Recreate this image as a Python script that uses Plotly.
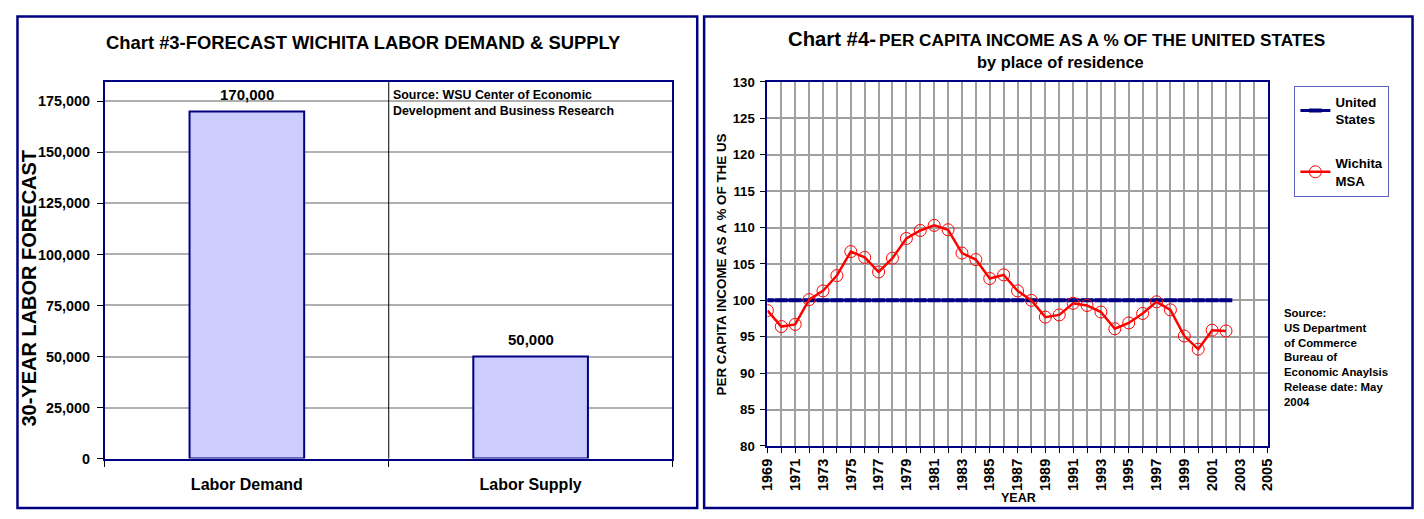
import plotly.graph_objects as go

# ---- Data ----
labor_categories = ["Labor Demand", "Labor Supply"]
labor_values = [170000, 50000]
labor_ticks = [0, 25000, 50000, 75000, 100000, 125000, 150000, 175000]

years = list(range(1969, 2003))
us_values = [100] * len(years)
wichita_values = [98.6, 96.4, 96.7, 100.1, 101.3, 103.4, 106.7, 105.9, 103.9, 105.8,
                  108.5, 109.6, 110.3, 109.7, 106.5, 105.6, 103.0, 103.5, 101.3, 100.0,
                  97.7, 98.0, 99.6, 99.3, 98.4, 96.1, 96.9, 98.2, 99.8, 98.7,
                  95.1, 93.3, 95.9, 95.8]

# The page body has an 8px margin, so the figure starts at screen (8, 8).
OFF = 8
W, H = 1424 - OFF, 519 - OFF
def px(x): return (x - OFF) / W
def py(y): return 1 - (y - OFF) / H

NAVY = "#000080"
FONT = "Liberation Sans"

fig = go.Figure()

# Left chart: bars
fig.add_trace(go.Bar(
    x=labor_categories, y=labor_values, width=0.404,
    marker=dict(color="#CCCCFF", line=dict(color=NAVY, width=2)),
    xaxis="x", yaxis="y", showlegend=False, hoverinfo="x+y"))

# Right chart: lines
fig.add_trace(go.Scatter(
    x=years, y=us_values, mode="lines+markers", name="United<br>States",
    line=dict(color=NAVY, width=3),
    marker=dict(symbol="line-ew", size=9, color=NAVY, line=dict(color=NAVY, width=4)),
    xaxis="x2", yaxis="y2", legendgroup="a"))
fig.add_trace(go.Scatter(
    x=years, y=wichita_values, mode="lines+markers", name="Wichita<br>MSA",
    line=dict(color="#FF0000", width=2.5),
    marker=dict(symbol="circle-open", size=12, color="#FF0000", line=dict(width=1)),
    xaxis="x2", yaxis="y2", legendgroup="b"))

fig.update_layout(
    width=W, height=H, margin=dict(l=0, r=0, t=0, b=0),
    paper_bgcolor="white", plot_bgcolor="white",
    font=dict(family=FONT, color="black"),
    xaxis=dict(domain=[px(98), px(672)], anchor="y", type="category",
               range=[-0.5, 1.5], showgrid=False, showline=True, linecolor=NAVY,
               linewidth=2, mirror=True, ticks="outside", tickson="boundaries",
               ticklen=6, tickcolor="black", ticklabelstandoff=10,
               tickfont=dict(family=FONT, size=16, color="black", weight="bold")),
    yaxis=dict(domain=[py(465), py(77)], anchor="x", range=[0, 184500],
               tickvals=labor_ticks, tickformat=",d", showgrid=True,
               gridcolor="#B0B0B0", gridwidth=1.5, showline=True, linecolor=NAVY,
               linewidth=2, mirror=True, ticks="outside", ticklen=6,
               tickcolor="black", zeroline=False, ticklabelstandoff=4,
               tickfont=dict(family=FONT, size=14.4, color="black", weight="bold")),
    xaxis2=dict(domain=[px(768), px(1274)], anchor="y2", range=[1969, 2005],
                tick0=1969, dtick=2, tickangle=-90, showgrid=True,
                gridcolor="#A0A0A0", gridwidth=1.5, showline=True, linecolor=NAVY,
                linewidth=2, mirror=True, ticks="outside", ticklen=5,
                tickcolor="black", zeroline=False,
                minor=dict(dtick=1, tick0=1969, showgrid=True, gridcolor="#A0A0A0",
                           gridwidth=1.5, ticks="outside", ticklen=5, tickcolor="black"),
                tickfont=dict(family=FONT, size=14.5, color="black", weight="bold")),
    yaxis2=dict(domain=[py(452), py(77)], anchor="x2", range=[80, 130], dtick=5,
                showgrid=True, gridcolor="#A0A0A0", gridwidth=1.5, showline=True,
                linecolor=NAVY, linewidth=2, mirror=True, ticks="outside",
                ticklen=5, tickcolor="black", zeroline=False, ticklabelstandoff=3,
                tickfont=dict(family=FONT, size=13.2, color="black", weight="bold")),
    legend=dict(x=px(1301), y=py(81), xanchor="left", yanchor="top",
                bordercolor="#6060C0", borderwidth=1, bgcolor="white",
                font=dict(family=FONT, size=13.2, color="black", weight="bold"),
                tracegroupgap=24, traceorder="grouped", itemwidth=30),
)

# Category separator line in left chart
fig.add_shape(type="line", xref="x", yref="paper", x0=0.5, x1=0.5,
              y0=py(465), y1=py(77), line=dict(color="black", width=1))

# Outer frames
fig.add_shape(type="rect", xref="paper", yref="paper", x0=px(9.5), x1=px(697),
              y0=py(516), y1=py(9.5), line=dict(color=NAVY, width=2.5))
fig.add_shape(type="rect", xref="paper", yref="paper", x0=px(704), x1=px(1420.5),
              y0=py(516), y1=py(9.5), line=dict(color=NAVY, width=2.5))

def A(x, y, text, size, xa="center", ya="middle", **kw):
    return dict(x=px(x), y=py(y), xref="paper", yref="paper", text=text,
                showarrow=False, xanchor=xa, yanchor=ya,
                font=dict(family=FONT, size=size, color="black"), **kw)

ann = []
# Bar value labels
for c, v in zip(labor_categories, labor_values):
    ann.append(dict(x=c, y=v, xref="x", yref="y", text=f"<b>{v:,}</b>",
                    showarrow=False, xanchor="center", yanchor="bottom", yshift=7,
                    font=dict(family=FONT, size=15, color="black")))
ann += [
    A(359, 36, "<b>Chart #3-FORECAST WICHITA LABOR DEMAND &amp; SUPPLY</b>", 18.4),
    A(387, 81, "<b>Source: WSU Center of Economic<br>Development and Business Research</b>",
      12.4, xa="left", ya="top", align="left"),
    A(21, 289, "<b>30-YEAR LABOR FORECAST</b>", 20, textangle=-90),
    A(880, 33, "<b>Chart #4-</b>", 20.3, xa="right"),
    A(879, 34, "<b>PER CAPITA INCOME AS A % OF THE UNITED STATES</b>", 17.2, xa="left"),
    A(1064, 56, "<b>by place of residence</b>", 16.4),
    A(722, 265, "<b>PER CAPITA INCOME AS A % OF THE US</b>", 13.4, textangle=-90),
    A(1022, 506, "<b>YEAR</b>", 12.5),
    A(1288, 307, "<b>Source:<br>US Department<br>of Commerce<br>Bureau of<br>Economic Anaylsis<br>Release date: May<br>2004</b>",
      11.4, xa="left", ya="top", align="left"),
]
fig.update_layout(annotations=ann)

fig.write_html("out.html", config={"displayModeBar": False})
